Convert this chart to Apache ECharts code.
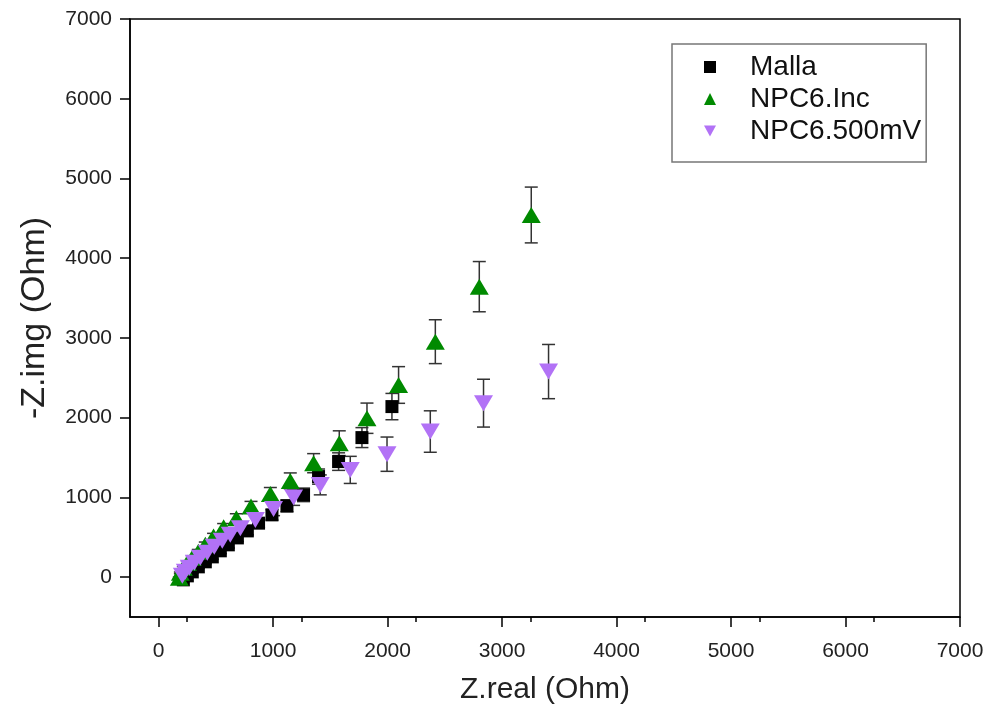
<!DOCTYPE html>
<html>
<head>
<meta charset="utf-8">
<script src="https://cdn.jsdelivr.net/npm/echarts@6/dist/echarts.min.js"></script>
<style>html,body{margin:0;padding:0;background:#fff;}#c{width:995px;height:714px;}</style>
</head>
<body>
<div id="c"></div>
<script>
// ---- Data ----
const seriesNames = ['Malla', 'NPC6.Inc', 'NPC6.500mV'];

const mallaX   = [2038, 1776, 1572, 1397, 1266, 1121, 990, 873, 775, 688, 609, 539, 469, 408, 347, 294, 251, 216];
const mallaY   = [2139, 1750, 1449, 1261, 1032, 894, 781, 677, 580, 492, 405, 330, 254, 192, 129, 66, 16, -34];
const mallaErr = [165, 125, 110, 95, 85, 75, 65, 55, 50, 45, 40, 35, 30, 25, 20, 15, 10, 10];

const incX   = [3255, 2801, 2417, 2096, 1820, 1578, 1354, 1150, 976, 807, 679, 568, 480, 408, 347, 294, 251, 216, 190, 181];
const incY   = [4542, 3643, 2953, 2410, 1993, 1680, 1429, 1207, 1044, 885, 740, 627, 509, 405, 317, 242, 179, 117, 54, -9];
const incErr = [350, 315, 275, 230, 190, 155, 120, 100, 80, 65, 55, 45, 40, 35, 30, 25, 20, 15, 10, 10];

const mvX   = [3406, 2838, 2373, 1995, 1674, 1412, 1179, 1004, 845, 714, 626, 556, 486, 425, 364, 312, 268, 233, 207];
const mvY   = [2578, 2182, 1826, 1542, 1345, 1157, 1000, 856, 718, 614, 530, 455, 380, 305, 242, 179, 117, 66, 16];
const mvErr = [340, 300, 260, 215, 170, 125, 100, 85, 70, 60, 50, 45, 40, 35, 30, 25, 20, 15, 10];

const xTicks = [0, 1000, 2000, 3000, 4000, 5000, 6000, 7000];
const yTicks = [0, 1000, 2000, 3000, 4000, 5000, 6000, 7000];

// ---- Build ----
function pts(xs, ys) { return xs.map((x, i) => [x, ys[i]]); }
function errPts(xs, ys, es) { return xs.map((x, i) => [x, ys[i], es[i]]); }

function errRender(params, api) {
  const x = api.value(0), y = api.value(1), e = api.value(2);
  const t = api.coord([x, y + e]);
  const b = api.coord([x, y - e]);
  const hw = 6.5;
  const st = { stroke: '#333333', lineWidth: 1.5 };
  return {
    type: 'group',
    children: [
      { type: 'line', shape: { x1: t[0], y1: t[1], x2: b[0], y2: b[1] }, style: st },
      { type: 'line', shape: { x1: t[0] - hw, y1: t[1], x2: t[0] + hw, y2: t[1] }, style: st },
      { type: 'line', shape: { x1: b[0] - hw, y1: b[1], x2: b[0] + hw, y2: b[1] }, style: st }
    ]
  };
}

const colors = ['#000000', '#008a00', '#b272f6'];
const FONT = 'Liberation Sans, Arial, sans-serif';
const fmt = v => String(v);

const chart = echarts.init(document.getElementById('c'), null, { renderer: 'canvas' });

const option = {
  animation: false,
  backgroundColor: '#ffffff',
  grid: {
    left: 130, right: 35, top: 19, bottom: 97,
    show: true, borderColor: '#000', borderWidth: 1.5, backgroundColor: 'transparent'
  },
  legend: {
    orient: 'vertical',
    left: 672, top: 44,
    padding: [7, 5, 15, 32],
    itemGap: 0,
    itemWidth: 12, itemHeight: 12,
    borderColor: '#777', borderWidth: 1.5,
    textStyle: { fontFamily: FONT, fontSize: 28, lineHeight: 32, color: '#111', padding: [0, 0, 0, 29] },
    data: [
      { name: seriesNames[0], icon: 'rect', itemStyle: { color: colors[0] } },
      { name: seriesNames[1], icon: 'triangle', itemStyle: { color: colors[1] } },
      { name: seriesNames[2], icon: 'path://M0,0 L10,0 L5,9 Z', itemStyle: { color: colors[2] } }
    ]
  },
  xAxis: {
    type: 'value', min: -250, max: 7000, interval: 1000,
    name: 'Z.real (Ohm)', nameLocation: 'middle', nameGap: 58,
    nameTextStyle: { fontFamily: FONT, fontSize: 30, color: '#222' },
    axisLine: { onZero: false, lineStyle: { color: '#000', width: 1.5 } },
    axisTick: { show: true, inside: false, length: 10, lineStyle: { color: '#000', width: 1.5 }, customValues: xTicks },
    minorTick: { show: true, splitNumber: 2, length: 5, lineStyle: { color: '#000', width: 1.5 } },
    axisLabel: { fontFamily: FONT, fontSize: 21, color: '#222', margin: 24, customValues: xTicks, formatter: fmt },
    splitLine: { show: false }
  },
  yAxis: {
    type: 'value', min: -500, max: 7000, interval: 1000,
    name: '-Z.img (Ohm)', nameLocation: 'middle', nameGap: 78,
    nameTextStyle: { fontFamily: FONT, fontSize: 34, color: '#222' },
    axisLine: { onZero: false, lineStyle: { color: '#000', width: 1.5 } },
    axisTick: { show: true, inside: false, length: 10, lineStyle: { color: '#000', width: 1.5 }, customValues: yTicks },
    minorTick: { show: true, splitNumber: 2, length: 5, lineStyle: { color: '#000', width: 1.5 } },
    axisLabel: { fontFamily: FONT, fontSize: 21, color: '#222', margin: 18, customValues: yTicks, formatter: fmt },
    splitLine: { show: false }
  },
  series: [
    { name: 'err-malla', type: 'custom', renderItem: errRender, data: errPts(mallaX, mallaY, mallaErr), z: 2, silent: true },
    { name: seriesNames[0], type: 'scatter', symbol: 'rect', symbolSize: 13, itemStyle: { color: colors[0], opacity: 1 }, data: pts(mallaX, mallaY), z: 3 },
    { name: 'err-inc', type: 'custom', renderItem: errRender, data: errPts(incX, incY, incErr), z: 2, silent: true },
    { name: seriesNames[1], type: 'scatter', symbol: 'triangle', symbolSize: [19, 16], itemStyle: { color: colors[1], opacity: 1 }, data: pts(incX, incY), z: 3 },
    { name: 'err-mv', type: 'custom', renderItem: errRender, data: errPts(mvX, mvY, mvErr), z: 2, silent: true },
    { name: seriesNames[2], type: 'scatter', symbol: 'triangle', symbolRotate: 180, symbolSize: [19, 16], itemStyle: { color: colors[2], opacity: 1 }, data: pts(mvX, mvY), z: 3 }
  ]
};
chart.setOption(option);
</script>
</body>
</html>
